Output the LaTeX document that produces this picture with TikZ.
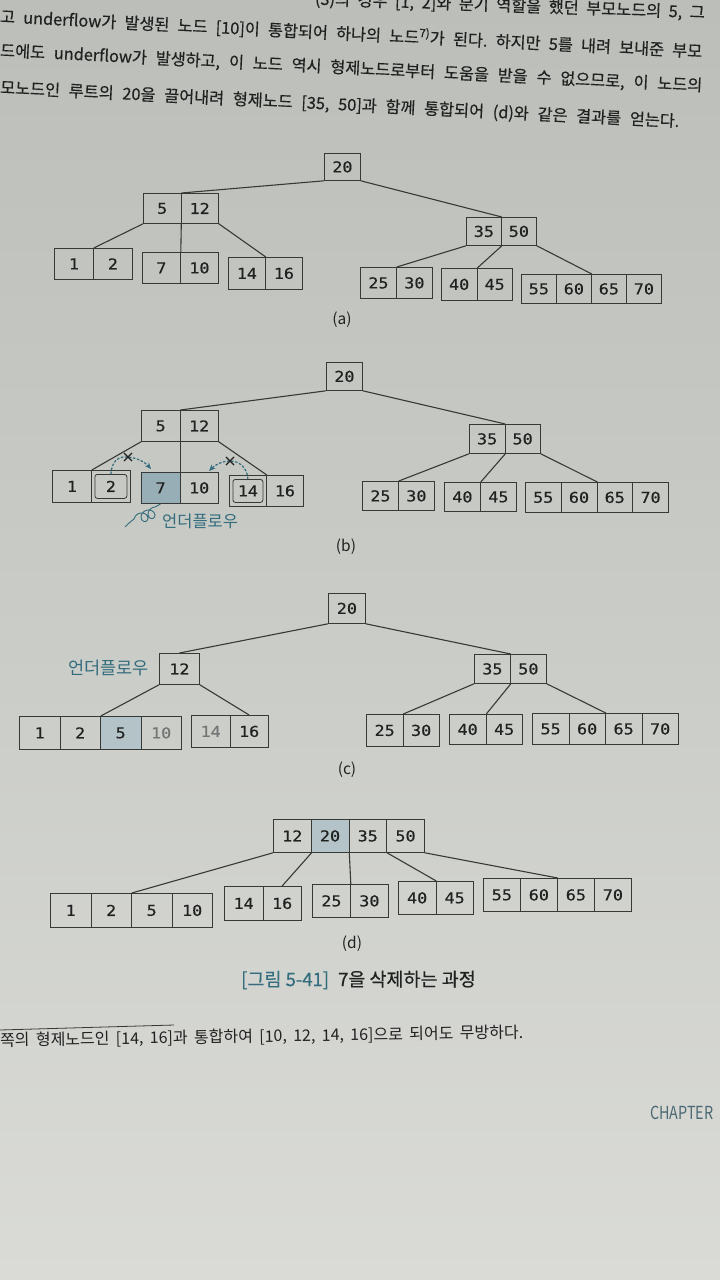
\documentclass[tikz,border=0pt]{standalone}
\usepackage{fontspec}
\setmainfont{Noto Sans CJK KR}
\newfontfamily\kr{Noto Sans CJK KR}
\newfontfamily\krb[FakeBold=0.5]{Noto Sans CJK KR}
\newfontfamily\numf[FakeStretch=1.12,FakeBold=0.4]{DejaVu Sans Mono}
\usetikzlibrary{arrows.meta,shapes.misc}
\frenchspacing
\definecolor{paperTop}{RGB}{188,191,185}
\definecolor{paperMid}{RGB}{202,204,199}
\definecolor{paperBot}{RGB}{218,219,215}
\definecolor{ink}{RGB}{32,34,33}
\definecolor{edge}{RGB}{55,57,55}
\definecolor{tealc}{RGB}{50,108,125}
\definecolor{shadeA}{RGB}{152,174,182}
\definecolor{shadeB}{RGB}{180,195,199}
\definecolor{grayt}{RGB}{115,118,116}
\definecolor{chapc}{RGB}{75,105,115}
\tikzset{
  cell/.style={draw=edge, line width=0.8pt, inner sep=0pt, font=\numf\fontsize{15}{15}\selectfont, text=ink, anchor=north west},
  pl/.style={},
  sh/.style={fill=shadeA},
  shl/.style={fill=shadeB},
  gt/.style={text=grayt},
  link/.style={draw=edge, line width=1.1pt},
  lbl/.style={font=\kr\fontsize{15.5}{15.5}\selectfont, text=ink, inner sep=0pt},
  uflow/.style={font=\kr\fontsize{16.5}{16.5}\selectfont, text=tealc, inner sep=0pt},
  darr/.style={draw=tealc, line width=1.2pt, dash pattern=on 2.5pt off 1.6pt, -{Stealth[length=6.5pt,width=5.5pt]}},
  xmark/.style={draw=ink, cross out, line width=1.1pt, minimum size=7pt, inner sep=0pt},
  inbox/.style={draw=edge, rounded corners=2.5pt, line width=0.8pt, inner sep=0pt},
  body/.style={font=\krb\fontsize{16.3}{16.3}\selectfont, text=ink, inner sep=0pt},
}
\newcommand\btree[6]{%
  \foreach \k/\s [count=\i] in {#6}{%
    \edef\btmp{\noexpand\node[cell, minimum width=#4pt, minimum height=#5pt, \s] (#1-\i) at ({#2+(\i-1)*#4}, #3) {\k};}%
    \btmp
  }%
}
\begin{document}
\begin{tikzpicture}[x=1pt,y=-1pt]
\useasboundingbox (0,0) rectangle (720,1280);
\clip (0,0) rectangle (720,1280);
\shade[top color=paperTop, bottom color=paperBot, middle color=paperMid] (0,0) rectangle (720,1280);

% ---- body text
\node[body, anchor=east, rotate=-2] (t0) at (705,13) {\makebox[390pt][s]{(3)의 경우 [1, 2]와 분기 역할을 했던 부모노드의 5, 그}};
\node[body, anchor=west, rotate=-2.85] (t1) at (0,16) {\makebox[703pt][s]{고 underflow가 발생된 노드 [10]이 통합되어 하나의 노드\textsuperscript{7)}가 된다. 하지만 5를 내려 보내준 부모}};
\node[body, anchor=west, rotate=-2.85] (t2) at (0,51) {\makebox[703pt][s]{드에도 underflow가 발생하고, 이 노드 역시 형제노드로부터 도움을 받을 수 없으므로, 이 노드의}};
\node[body, anchor=west, rotate=-2.85] (t3) at (0,88) {\makebox[680pt][s]{모노드인 루트의 20을 끌어내려 형제노드 [35, 50]과 함께 통합되어 (d)와 같은 결과를 얻는다.}};

% ---- (a)
\btree{aR}{324}{153}{36}{27}{20/pl}
\btree{aL}{143}{193}{37.5}{30}{5/pl,12/pl}
\btree{aA}{54}{248}{39}{31}{1/pl,2/pl}
\btree{aB}{142}{252}{38}{31}{7/pl,10/pl}
\btree{aC}{228}{257}{37}{32}{14/pl,16/pl}
\btree{aM}{466}{217}{35}{28}{35/pl,50/pl}
\btree{aD}{360}{267}{36}{31}{25/pl,30/pl}
\btree{aE}{441}{268}{35.5}{32}{40/pl,45/pl}
\btree{aF}{521}{274}{35}{29}{55/pl,60/pl,65/pl,70/pl}
\draw[link] (aR-1.south west) -- (aL-1.north east);
\draw[link] (aR-1.south east) -- (aM-1.north east);
\draw[link] (aL-1.south west) -- (aA-1.north east);
\draw[link] (aL-1.south east) -- (aB-1.north east);
\draw[link] (aL-2.south east) -- (aC-1.north east);
\draw[link] (aM-1.south west) -- (aD-1.north east);
\draw[link] (aM-1.south east) -- (aE-1.north east);
\draw[link] (aM-2.south east) -- (aF-2.north east);
\node[lbl] (la) at (342,320) {(a)};

% ---- (b)
\btree{bR}{326}{362}{36}{28}{20/pl}
\btree{bL}{141}{410}{38.5}{31}{5/pl,12/pl}
\btree{bA}{52}{470}{39}{32}{1/pl,2/pl}
\btree{bB}{141}{472}{38.5}{31}{7/sh,10/pl}
\btree{bC}{229}{475}{37}{31}{14/pl,16/pl}
\btree{bM}{469}{424}{35.5}{29}{35/pl,50/pl}
\btree{bD}{362}{481}{36}{29}{25/pl,30/pl}
\btree{bE}{444}{482}{36}{29}{40/pl,45/pl}
\btree{bF}{525}{482}{35.75}{30}{55/pl,60/pl,65/pl,70/pl}
\draw[link] (bR-1.south west) -- (bL-1.north east);
\draw[link] (bR-1.south east) -- (bM-1.north east);
\draw[link] (bL-1.south west) -- (bA-1.north east);
\draw[link] (bL-1.south east) -- (bB-1.north east);
\draw[link] (bL-2.south east) -- (bC-1.north east);
\draw[link] (bM-1.south west) -- (bD-1.north east);
\draw[link] (bM-1.south east) -- (bE-1.north east);
\draw[link] (bM-2.south east) -- (bF-2.north east);
\node[inbox, minimum width=32pt, minimum height=24pt] (in2) at (bA-2.center) {};
\node[inbox, minimum width=30pt, minimum height=23pt] (in14) at (bC-1.center) {};
\coordinate (t7) at (151,469);
\coordinate (t10) at (209,471);
\coordinate (xa) at (128,457);
\coordinate (xb) at (230,461);
\draw[darr] (in2.north) .. controls (112,460) and (119,456) .. (xa) .. controls (137,458) and (145,462) .. (t7);
\draw[darr] (in14.north) .. controls (247,467) and (239,461) .. (xb) .. controls (222,461) and (215,465) .. (t10);
\node[xmark] (x1) at (xa) {};
\node[xmark] (x2) at (xb) {};
\coordinate (tailend) at (125,527);
\draw[tealc, line width=0.9pt] (bB-1.south) .. controls (159,505) and (157,506) .. (155,507)
  -- plot[domain=0:2.25, samples=90, smooth] ({155-7*\x-5*sin(360*\x)},{512+3*\x-5*cos(360*\x)})
  .. controls (130,522) and (128,524) .. (tailend);
\node[uflow, anchor=west] (uf1) at (162,521) {언더플로우};
\node[lbl] (lb) at (346,547) {(b)};

% ---- (c)
\btree{cR}{328}{593}{37}{30}{20/pl}
\btree{cL}{159}{653}{40}{31}{12/pl}
\btree{cA}{19}{716}{40.5}{33}{1/pl,2/pl,5/shl,10/gt}
\btree{cB}{191}{715}{38.5}{32}{14/gt,16/pl}
\btree{cM}{474}{654}{36}{29}{35/pl,50/pl}
\btree{cD}{366}{714}{36.5}{32}{25/pl,30/pl}
\btree{cE}{449}{714}{36.5}{30}{40/pl,45/pl}
\btree{cF}{532}{713}{36.5}{31}{55/pl,60/pl,65/pl,70/pl}
\draw[link] (cR-1.south west) -- (cL-1.north);
\draw[link] (cR-1.south east) -- (cM-1.north east);
\draw[link] (cL-1.south west) -- (cA-2.north east);
\draw[link] (cL-1.south east) -- (cB-2.north);
\draw[link] (cM-1.south west) -- (cD-1.north east);
\draw[link] (cM-1.south east) -- (cE-1.north east);
\draw[link] (cM-2.south east) -- (cF-2.north east);
\node[uflow, anchor=east, font=\kr\fontsize{17.5}{17.5}\selectfont] (uf2) at (149,668) {언더플로우};
\node[lbl] (lc) at (347,770) {(c)};

% ---- (d)
\btree{dR}{273}{819}{37.75}{33}{12/pl,20/shl,35/pl,50/pl}
\btree{dA}{50}{893}{40.5}{34}{1/pl,2/pl,5/pl,10/pl}
\btree{dB}{224}{886}{38.5}{34}{14/pl,16/pl}
\btree{dC}{312}{884}{38}{33}{25/pl,30/pl}
\btree{dD}{398}{881}{37.5}{33}{40/pl,45/pl}
\btree{dE}{483}{878}{37}{33}{55/pl,60/pl,65/pl,70/pl}
\draw[link] (dR-1.south west) -- (dA-2.north east);
\draw[link] (dR-1.south east) -- (dB-2.north);
\draw[link] (dR-2.south east) -- (dC-1.north east);
\draw[link] (dR-3.south east) -- (dD-1.north east);
\draw[link] (dR-4.south east) -- (dE-2.north east);
\node[lbl] (ld) at (352,944) {(d)};

% ---- caption, footnote
\node[font=\krb\fontsize{18.5}{18.5}\selectfont, anchor=west, inner sep=0pt, text=ink] (cap) at (241,980) {{\color{tealc}[그림 5-41]}\hspace{9pt}7을 삭제하는 과정};
\coordinate (r1) at (0,1030);
\coordinate (r2) at (174,1025);
\draw[edge, line width=0.8pt] (r1) -- (r2);
\node[body, font=\kr\fontsize{16}{16}\selectfont, anchor=west, rotate=0.9] (fn) at (0,1041) {\makebox[523pt][s]{쪽의 형제노드인 [14, 16]과 통합하여 [10, 12, 14, 16]으로 되어도 무방하다.}};
\node[anchor=west, inner sep=0pt, font=\fontsize{18}{18}\selectfont, text=chapc] (ch) at (650,1113) {\scalebox{0.8}[1]{CHAPTER}};
\end{tikzpicture}
\end{document}
